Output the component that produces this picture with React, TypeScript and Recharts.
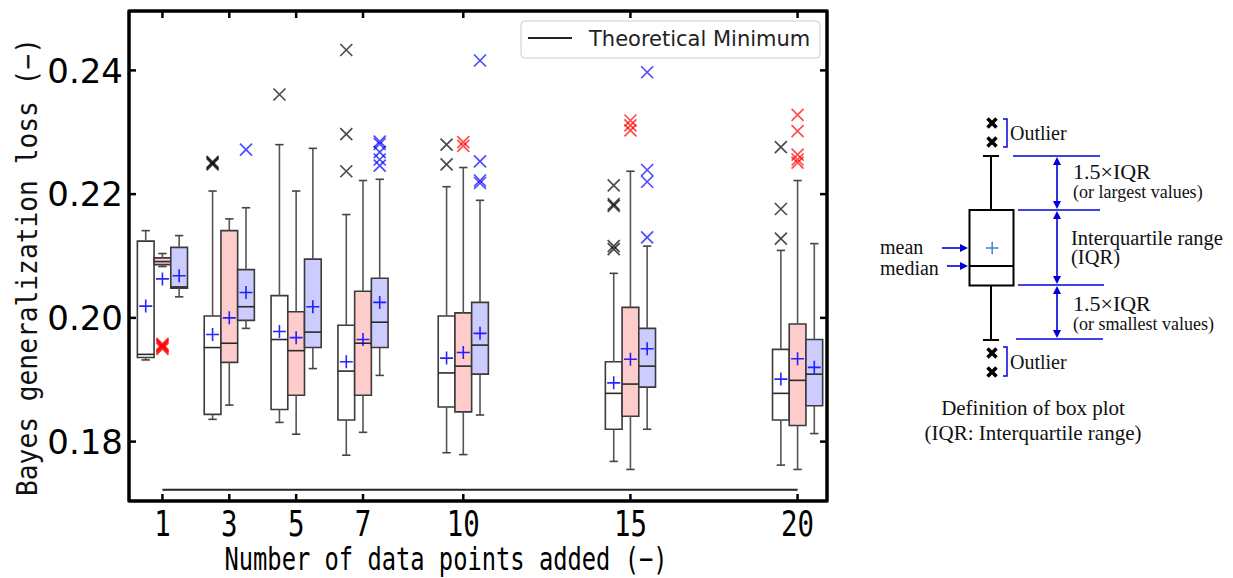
import React from 'react';
import { ComposedChart, XAxis, YAxis, Scatter, ReferenceArea, ReferenceLine } from 'recharts';

const groups = [1, 3, 5, 7, 10, 15, 20];
const xTicks = [1, 3, 5, 7, 10, 15, 20];
const yTicks = [0.18, 0.2, 0.22, 0.24];
const theoreticalMinimum = [
    { x: 1, y: 0.1722 },
    { x: 20, y: 0.1722 },
];

// per group: [lower whisker, Q1, median, Q3, upper whisker, mean]
const whiteStats = [
    [0.1932, 0.1936, 0.1941, 0.2124, 0.2141, 0.2019],
    [0.1836, 0.1844, 0.1952, 0.2003, 0.2205, 0.1973],
    [0.1831, 0.1852, 0.1965, 0.2036, 0.2280, 0.1978],
    [0.1778, 0.1835, 0.1914, 0.1988, 0.2167, 0.1929],
    [0.1782, 0.1856, 0.1911, 0.2003, 0.2212, 0.1935],
    [0.1768, 0.1820, 0.1878, 0.1929, 0.2072, 0.1895],
    [0.1762, 0.1835, 0.1878, 0.1949, 0.2109, 0.1901],
];
const pinkStats = [
    [0.2083, 0.2086, 0.2091, 0.2097, 0.2104, 0.2063],
    [0.1859, 0.1928, 0.1959, 0.2141, 0.2160, 0.2000],
    [0.1812, 0.1875, 0.1947, 0.2010, 0.2205, 0.1968],
    [0.1815, 0.1875, 0.1959, 0.2043, 0.2222, 0.1965],
    [0.1779, 0.1848, 0.1922, 0.2008, 0.2243, 0.1944],
    [0.1755, 0.1841, 0.1893, 0.2017, 0.2237, 0.1933],
    [0.1755, 0.1826, 0.1899, 0.1990, 0.2222, 0.1934],
];
const blueStats = [
    [0.2034, 0.2048, 0.2050, 0.2114, 0.2133, 0.2068],
    [0.1983, 0.1996, 0.2018, 0.2078, 0.2178, 0.2041],
    [0.1918, 0.1952, 0.1977, 0.2095, 0.2274, 0.2018],
    [0.1907, 0.1952, 0.1993, 0.2064, 0.2224, 0.2025],
    [0.1843, 0.1909, 0.1956, 0.2025, 0.2190, 0.1975],
    [0.1820, 0.1888, 0.1922, 0.1983, 0.2116, 0.1950],
    [0.1813, 0.1858, 0.1909, 0.1965, 0.2120, 0.1920],
];

const whiteOutliers = [
    [],
    [0.2248, 0.2250, 0.2252],
    [0.2361],
    [0.2433, 0.2297, 0.2237],
    [0.2280, 0.2248],
    [0.2214, 0.2184, 0.2181, 0.2116, 0.2111],
    [0.2276, 0.2176, 0.2128],
];
const pinkOutliers = [
    [0.1950, 0.1952, 0.1954, 0.1955, 0.1956, 0.1958],
    [],
    [],
    [],
    [0.2284, 0.2278],
    [0.2319, 0.2311, 0.2303],
    [0.2328, 0.2302, 0.2264, 0.2256, 0.2251],
];
const blueOutliers = [
    [],
    [0.2272],
    [],
    [0.2285, 0.2281, 0.2268, 0.2256, 0.2246],
    [0.2416, 0.2253, 0.2222, 0.2218],
    [0.2397, 0.2239, 0.2220, 0.2130],
    [],
];

const legendLabel = 'Theoretical Minimum';
const xLabel = 'Number of data points added (\u2212)';
const yLabel = 'Bayes generalization loss (\u2212)';

const series = [
    { key: 'white', offset: -0.5, stats: whiteStats, outliers: whiteOutliers, fill: '#ffffff', mark: '#000000' },
    { key: 'pink', offset: 0, stats: pinkStats, outliers: pinkOutliers, fill: '#ffcccc', mark: '#ff0000' },
    { key: 'blue', offset: 0.5, stats: blueStats, outliers: blueOutliers, fill: '#ccccff', mark: '#0000ff' },
];

const X_DOMAIN: [number, number] = [0, 20.88];
const Y_DOMAIN: [number, number] = [0.1704, 0.2496];
const BOX_HALF = 0.25;
const CAP_HALF = 0.125;
const EDGE = '#3a3a3a';
const MONO = "'DejaVu Sans Mono', monospace";
const SERIF = "'Liberation Serif', 'Times New Roman', serif";

const LeftTick = ({ x, y, payload }: any) => (
    <g>
        <line x1={x} x2={x + 7} y1={y} y2={y} stroke="#000" strokeWidth={2.5} />
        <text x={x - 6} y={y} dy="0.36em" textAnchor="end" fontFamily="'DejaVu Sans', sans-serif" fontSize={34} fill="#000">
            {Number(payload.value).toFixed(2)}
        </text>
    </g>
);
const RightTick = ({ x, y }: any) => <line x1={x} x2={x - 7} y1={y} y2={y} stroke="#000" strokeWidth={2.5} />;
const TopTick = ({ x, y }: any) => <line x1={x} x2={x} y1={y} y2={y + 7} stroke="#000" strokeWidth={2.5} />;
const BottomTick = ({ x, y, payload }: any) => (
    <g>
        <line x1={x} x2={x} y1={y} y2={y - 7} stroke="#000" strokeWidth={2.5} />
        <text x={x} y={y + 35} textAnchor="middle" fontFamily={MONO} fontSize={35}
            textLength={String(payload.value).length * 16.5} lengthAdjust="spacingAndGlyphs" fill="#000">
            {payload.value}
        </text>
    </g>
);

const Plus = ({ cx, cy }: any) => (
    <path d={`M${cx - 6.5},${cy}H${cx + 6.5}M${cx},${cy - 6.5}V${cy + 6.5}`} stroke="#0000ff" strokeOpacity={0.85} strokeWidth={1.6} fill="none" />
);
const makeCross = (color: string) => ({ cx, cy }: any) => (
    <path d={`M${cx - 6},${cy - 6}L${cx + 6},${cy + 6}M${cx - 6},${cy + 6}L${cx + 6},${cy - 6}`} stroke={color} strokeOpacity={0.7} strokeWidth={1.7} fill="none" />
);
const NoDot = () => <g />;

const Arrow = ({ x1, y1, x2, y2 }: { x1: number; y1: number; x2: number; y2: number }) => {
    const a = Math.atan2(y2 - y1, x2 - x1);
    const L = 8, W = 4;
    const bx = x2 - L * Math.cos(a), by = y2 - L * Math.sin(a);
    const px = -Math.sin(a) * W, py = Math.cos(a) * W;
    return (
        <g>
            <line x1={x1} y1={y1} x2={bx} y2={by} stroke="#0000dd" strokeWidth={1.6} />
            <path d={`M${x2},${y2}L${bx + px},${by + py}L${bx - px},${by - py}Z`} fill="#0000dd" />
        </g>
    );
};

const BoxDefinition = () => (
    <svg width={1233} height={578} style={{ position: 'absolute', left: 0, top: 0, pointerEvents: 'none' }}>
        {/* legend of the chart */}
        <rect x={521} y={21} width={299} height={37} rx={4} fill="#ffffff" fillOpacity={0.8} stroke="#cccccc" strokeWidth={1} />
        <line x1={528} x2={572} y1={38} y2={38} stroke="#222" strokeWidth={2} />
        <text x={589} y={46} fontFamily="'DejaVu Sans', sans-serif" fontSize={21} fill="#222">{legendLabel}</text>

        {/* definition diagram */}
        <g stroke="#000" strokeWidth={3.5} strokeLinecap="butt">
            {[123, 142, 353, 372].map(cy => (
                <path key={cy} d={`M987.5,${cy - 4.5}L996.5,${cy + 4.5}M987.5,${cy + 4.5}L996.5,${cy - 4.5}`} />
            ))}
        </g>
        <path d="M1003,119H1007V147H1003" stroke="#0000dd" strokeWidth={1.5} fill="none" />
        <path d="M1003,347H1007V376H1003" stroke="#0000dd" strokeWidth={1.5} fill="none" />
        <text x={1010} y={140} fontFamily={SERIF} fontSize={20} fill="#111">Outlier</text>
        <text x={1010} y={369} fontFamily={SERIF} fontSize={20} fill="#111">Outlier</text>

        <line x1={983} x2={999} y1={156} y2={156} stroke="#000" strokeWidth={2} />
        <line x1={991} x2={991} y1={156} y2={210} stroke="#000" strokeWidth={2} />
        <rect x={969.5} y={210} width={44} height={75.5} fill="#fff" stroke="#000" strokeWidth={2} />
        <line x1={969.5} x2={1013.5} y1={266} y2={266} stroke="#000" strokeWidth={2} />
        <path d="M986,248H998.5M992.2,241.8V254.2" stroke="#4a7fd4" strokeWidth={1.5} />
        <line x1={991} x2={991} y1={285.5} y2={340} stroke="#000" strokeWidth={2} />
        <line x1={983} x2={999} y1={340} y2={340} stroke="#000" strokeWidth={2} />

        <g stroke="#0000dd" strokeWidth={1.5}>
            <line x1={1013} x2={1100} y1={156} y2={156} />
            <line x1={1018} x2={1100} y1={210} y2={210} />
            <line x1={1018} x2={1104} y1={285} y2={285} />
            <line x1={1016} x2={1103} y1={339} y2={339} />
        </g>
        <Arrow x1={1057} y1={183} x2={1057} y2={157} />
        <Arrow x1={1057} y1={183} x2={1057} y2={209} />
        <Arrow x1={1057} y1={247} x2={1057} y2={211} />
        <Arrow x1={1057} y1={247} x2={1057} y2={284} />
        <Arrow x1={1057} y1={312} x2={1057} y2={286} />
        <Arrow x1={1057} y1={312} x2={1057} y2={338} />
        <Arrow x1={942} y1={248} x2={968} y2={248} />
        <Arrow x1={947} y1={266} x2={968} y2={266} />

        <g fontFamily={SERIF} fill="#111">
            <text x={1073} y={179} fontSize={22}>1.5×IQR</text>
            <text x={1073} y={198} fontSize={18}>(or largest values)</text>
            <text x={1071} y={245} fontSize={20.5}>Interquartile  range</text>
            <text x={1071} y={264} fontSize={20.5}>(IQR)</text>
            <text x={1073} y={311} fontSize={22}>1.5×IQR</text>
            <text x={1073} y={330} fontSize={18}>(or smallest values)</text>
            <text x={880} y={254} fontSize={20}>mean</text>
            <text x={880} y={275} fontSize={20}>median</text>
            <text x={1033} y={415} fontSize={21} textAnchor="middle">Definition of box plot</text>
            <text x={1033} y={440} fontSize={21} textAnchor="middle">(IQR: Interquartile  range)</text>
        </g>
    </svg>
);

export default function App() {
    return (
        <div style={{ position: 'absolute', left: 0, top: 0, width: 1233, height: 578, background: '#fff' }}>
            <ComposedChart width={840} height={578} margin={{ top: 10, right: 12, bottom: 47, left: 69 }}>
                <XAxis xAxisId={0} type="number" dataKey="x" domain={X_DOMAIN} ticks={xTicks} interval={0}
                    allowDataOverflow height={30} tickSize={0} tickMargin={0} tickLine={false}
                    axisLine={{ stroke: '#000', strokeWidth: 3 }} tick={<BottomTick />} />
                <XAxis xAxisId="top" orientation="top" type="number" dataKey="x" domain={X_DOMAIN} ticks={xTicks}
                    interval={0} allowDataOverflow height={1} tickSize={0} tickMargin={0} tickLine={false}
                    axisLine={{ stroke: '#000', strokeWidth: 3 }} tick={<TopTick />} />
                <YAxis yAxisId={0} type="number" dataKey="y" domain={Y_DOMAIN} ticks={yTicks} interval={0}
                    allowDataOverflow width={60} tickSize={0} tickMargin={0} tickLine={false}
                    axisLine={{ stroke: '#000', strokeWidth: 3 }} tick={<LeftTick />} />
                <YAxis yAxisId="right" orientation="right" type="number" dataKey="y" domain={Y_DOMAIN}
                    ticks={yTicks} interval={0} allowDataOverflow width={1} tickSize={0} tickMargin={0} tickLine={false}
                    axisLine={{ stroke: '#000', strokeWidth: 3 }} tick={<RightTick />} />

                {/* plot frame */}
                <ReferenceArea x1={X_DOMAIN[0]} x2={X_DOMAIN[1]} y1={Y_DOMAIN[0]} y2={Y_DOMAIN[1]}
                    fill="none" fillOpacity={0} stroke="#000" strokeWidth={3} ifOverflow="visible" />

                {series.flatMap(s => s.stats.map((st, i) => {
                    const cx = groups[i] + s.offset;
                    return (
                        <ReferenceArea key={`box-${s.key}-${i}`} x1={cx - BOX_HALF} x2={cx + BOX_HALF} y1={st[1]} y2={st[3]}
                            fill={s.fill} fillOpacity={1} stroke={EDGE} strokeWidth={1.6} ifOverflow="visible" />
                    );
                }))}
                {series.flatMap(s => s.stats.map((st, i) => {
                    const cx = groups[i] + s.offset;
                    return [
                        <ReferenceLine key={`wu-${s.key}-${i}`} segment={[{ x: cx, y: st[3] }, { x: cx, y: st[4] }]} stroke="#555" strokeWidth={1.6} ifOverflow="visible" />,
                        <ReferenceLine key={`wl-${s.key}-${i}`} segment={[{ x: cx, y: st[0] }, { x: cx, y: st[1] }]} stroke="#555" strokeWidth={1.6} ifOverflow="visible" />,
                        <ReferenceLine key={`cu-${s.key}-${i}`} segment={[{ x: cx - CAP_HALF, y: st[4] }, { x: cx + CAP_HALF, y: st[4] }]} stroke="#444" strokeWidth={1.6} ifOverflow="visible" />,
                        <ReferenceLine key={`cl-${s.key}-${i}`} segment={[{ x: cx - CAP_HALF, y: st[0] }, { x: cx + CAP_HALF, y: st[0] }]} stroke="#444" strokeWidth={1.6} ifOverflow="visible" />,
                        <ReferenceLine key={`md-${s.key}-${i}`} segment={[{ x: cx - BOX_HALF, y: st[2] }, { x: cx + BOX_HALF, y: st[2] }]} stroke="#2a2a2a" strokeWidth={1.6} ifOverflow="visible" />,
                    ];
                }))}

                <Scatter data={theoreticalMinimum} line={{ stroke: '#222', strokeWidth: 2 }} shape={<NoDot />} isAnimationActive={false} />
                {series.map(s => (
                    <Scatter key={`mean-${s.key}`} data={s.stats.map((st, i) => ({ x: groups[i] + s.offset, y: st[5] }))}
                        shape={<Plus />} isAnimationActive={false} />
                ))}
                {series.map(s => (
                    <Scatter key={`out-${s.key}`}
                        data={s.outliers.flatMap((vals, i) => vals.map(v => ({ x: groups[i] + s.offset, y: v })))}
                        shape={makeCross(s.mark)} isAnimationActive={false} />
                ))}
            </ComposedChart>

            <svg width={840} height={578} style={{ position: 'absolute', left: 0, top: 0, pointerEvents: 'none' }}>
                <text x={446} y={570} textAnchor="middle" fontFamily={MONO} fontSize={32}
                    textLength={443} lengthAdjust="spacingAndGlyphs" fill="#000">{xLabel}</text>
                <text transform="translate(37,267) rotate(-90)" textAnchor="middle" fontFamily={MONO} fontSize={28}
                    textLength={458} lengthAdjust="spacingAndGlyphs" fill="#111">{yLabel}</text>
            </svg>
            <BoxDefinition />
        </div>
    );
}
